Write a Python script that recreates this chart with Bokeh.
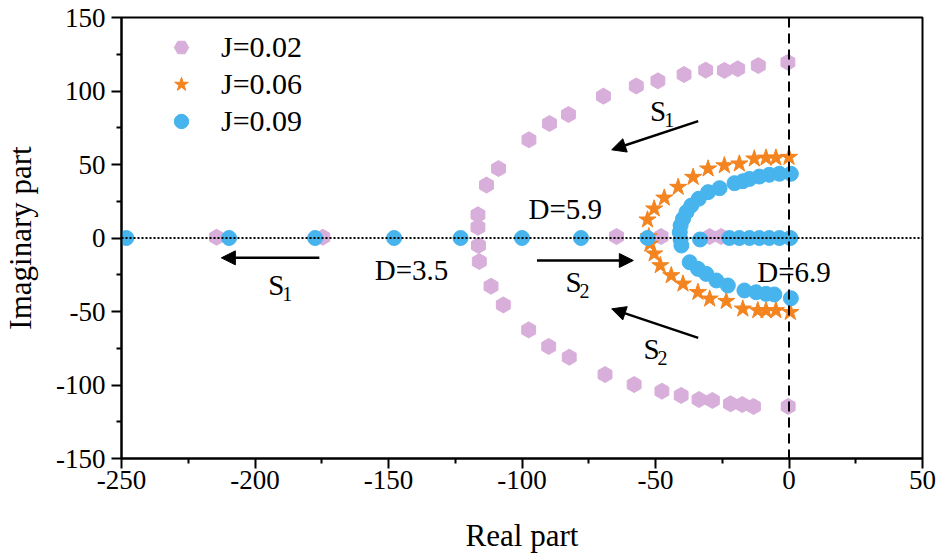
from bokeh.plotting import figure
from bokeh.models import (Span, Arrow, NormalHead, Label, Legend, LegendItem,
                          FixedTicker, Range1d)
from bokeh.embed import file_html
from bokeh.resources import INLINE
import math

FONT = "Liberation Serif"

# ---------------- data ----------------
# J = 0.02 (pink hexagons)
j002_re = [-0.4, -11.5, -19.2, -24.2, -31.2, -39.3, -49.1, -57.2, -69.5, -82.6,
           -89.7, -97.4, -108.8, -113.3, -116.5, -116.5,
           -116.3, -116.0, -111.6, -107.0, -97.5, -90.0, -82.3, -68.9, -58.0,
           -47.6, -40.4, -33.7, -28.7, -21.9, -17.5, -13.3, -0.3,
           -214.4, -174.6, -64.6, -47.9, -29.7, -25.4]
j002_im = [119.5, 117.3, 115.1, 114.0, 114.2, 111.2, 106.9, 103.4, 96.5, 84.0,
           77.9, 66.8, 47.2, 36.0, 15.8, 7.3,
           -5.1, -16.0, -32.8, -45.5, -62.5, -73.8, -81.1, -92.9, -99.7,
           -104.2, -107.1, -109.9, -110.5, -112.8, -113.3, -114.6, -114.6,
           0.5, 0.5, 1.0, 1.0, 1.0, 1.0]

# J = 0.06 (orange stars)
j006_re = [0.0, -4.9, -8.6, -13.0, -18.6, -24.2, -30.3, -35.9, -41.5, -46.7,
           -50.5, -53.0, -52.5,
           -52.1, -50.5, -48.2, -44.1, -39.7, -34.1, -29.7, -23.5, -17.3,
           -11.7, -8.6, -4.9, 0.5]
j006_im = [55.0, 54.5, 54.5, 53.9, 50.5, 49.3, 47.1, 41.4, 34.6, 27.3,
           19.9, 12.4, 1.0,
           -4.0, -10.7, -18.7, -25.5, -31.2, -36.9, -41.4, -43.0, -48.2,
           -49.3, -49.3, -49.3, -50.5]

# J = 0.09 (blue circles)
j009_re = [-248.2, -209.7, -177.5, -147.9, -123.0, -100.0, -77.9, -53.0, -33.3,
           -22.3, -18.6, -14.8, -11.1, -7.4, -3.6, 0.5,
           0.7, -3.6, -7.4, -11.1, -14.8, -17.3, -20.4, -26.0, -30.3, -33.8,
           -36.6, -38.4, -39.7, -40.6, -40.9,
           -40.6, -40.3, -37.2, -34.1, -31.0, -27.2, -22.9, -16.7, -12.3, -8.6,
           -5.5, 0.7]
j009_im = [0.0, 0.0, 0.0, 0.0, 0.0, 0.0, 0.0, 0.0, -1.0,
           0.0, 0.0, 0.0, 0.0, 0.0, 0.0, 0.0,
           43.7, 43.7, 43.0, 41.8, 40.2, 38.6, 37.3, 33.9, 31.2, 26.7,
           22.1, 17.6, 13.0, 8.5, 3.9,
           -1.0, -5.1, -16.5, -21.0, -24.4, -28.9, -32.3, -35.7, -36.9, -38.0,
           -38.4, -41.0]

x_ticks = [-250, -200, -150, -100, -50, 0, 50]
x_tick_labels = ["-250", "-200", "-150", "-100", "-50", "0", "50"]
y_ticks = [-150, -100, -50, 0, 50, 100, 150]
y_tick_labels = ["-150", "-100", "-50", "0", "50", "100", "150"]
series_labels = ["J=0.02", "J=0.06", "J=0.09"]

PINK = "#D8AEDA"
ORANGE = "#F38420"
BLUE = "#47B4EE"

# ---------------- figure ----------------
p = figure(width=941, height=559, output_backend="svg", toolbar_location=None,
           x_range=Range1d(-250, 50), y_range=Range1d(-150, 150),
           min_border_left=118, min_border_right=19,
           min_border_top=17, min_border_bottom=101)
p.xgrid.visible = False
p.ygrid.visible = False
p.background_fill_color = "white"
p.border_fill_color = "white"
p.outline_line_color = "black"
p.outline_line_width = 2
p.outline_line_alpha = 1

# reference lines
p.add_layout(Span(location=0, dimension="width", line_color="black",
                  line_width=2, line_dash="2 2"))
p.add_layout(Span(location=0, dimension="height", line_color="black",
                  line_width=2, line_dash="10 6"))

r1 = p.scatter(j002_re, j002_im, marker="hex", size=16, angle=math.pi / 6,
               fill_color=PINK, line_color=PINK)
r2 = p.scatter(j006_re, j006_im, marker="star", size=18,
               fill_color=ORANGE, line_color=ORANGE)
r3 = p.scatter(j009_re, j009_im, marker="circle", size=15,
               fill_color=BLUE, line_color=BLUE)

# axes
for ax in (p.xaxis[0], p.yaxis[0]):
    ax.axis_line_width = 2
    ax.axis_line_color = "black"
    ax.major_tick_line_width = 2
    ax.minor_tick_line_width = 2
    ax.major_tick_out = 10
    ax.major_tick_in = 0
    ax.minor_tick_out = 5
    ax.minor_tick_in = 0
    ax.major_label_text_font = FONT
    ax.major_label_text_font_size = "27px"
    ax.major_label_text_color = "black"
    ax.axis_label_text_font = FONT
    ax.axis_label_text_font_size = "31px"
    ax.axis_label_text_font_style = "normal"
    ax.axis_label_text_color = "black"

p.xaxis.ticker = FixedTicker(ticks=x_ticks,
                             minor_ticks=[-225, -175, -125, -75, -25, 25])
p.yaxis.ticker = FixedTicker(ticks=y_ticks,
                             minor_ticks=[-125, -75, -25, 25, 75, 125])
p.xaxis.major_label_overrides = dict(zip(x_ticks, x_tick_labels))
p.yaxis.major_label_overrides = dict(zip(y_ticks, y_tick_labels))
p.xaxis.axis_label = "Real part"
p.yaxis.axis_label = "Imaginary part"
p.xaxis.major_label_standoff = 2
p.xaxis.axis_label_standoff = 26
p.yaxis.major_label_standoff = 6
p.yaxis.axis_label_standoff = 15

# legend
legend = Legend(items=[LegendItem(label=series_labels[0], renderers=[r1]),
                       LegendItem(label=series_labels[1], renderers=[r2]),
                       LegendItem(label=series_labels[2], renderers=[r3])],
                location=(42, 319), orientation="vertical",
                label_text_font=FONT, label_text_font_size="30px",
                label_text_color="black",
                glyph_width=36, glyph_height=36, label_height=36,
                label_standoff=22, spacing=1, padding=0, margin=0,
                border_line_color=None, background_fill_alpha=0)
p.add_layout(legend)

# arrows
def arrow(x0, y0, x1, y1):
    p.add_layout(Arrow(end=NormalHead(size=14, fill_color="black",
                                      line_color="black", line_width=1),
                       x_start=x0, y_start=y0, x_end=x1, y_end=y1,
                       line_color="black", line_width=2.5))

arrow(-34.0, 79.5, -66.4, 60.0)      # S1 upper
arrow(-175.9, -13.5, -212.6, -13.5)  # S1 lower-left
arrow(-94.4, -15.3, -58.3, -15.3)    # S2 right
arrow(-34.0, -67.9, -66.4, -48.2)    # S2 lower

def text(x, y, s, size="29px"):
    p.add_layout(Label(x=x, y=y, text=s, text_font=FONT, text_font_size=size,
                       text_align="center", text_baseline="middle",
                       text_color="black"))

def s_label(x, y, sub):
    text(x, y, "S", "29px")
    p.add_layout(Label(x=x, y=y, x_offset=11, y_offset=-9, text=sub,
                       text_font=FONT, text_font_size="20px",
                       text_align="center", text_baseline="middle",
                       text_color="black"))

s_label(-49.0, 86.7, "1")
s_label(-192.0, -32.3, "1")
s_label(-80.7, -30.0, "2")
s_label(-51.5, -75.4, "2")
text(-141.4, -22.1, "D=3.5")
text(-83.8, 20.0, "D=5.9")
text(1.9, -23.3, "D=6.9")

open("out.html", "w").write(file_html(p, INLINE))
